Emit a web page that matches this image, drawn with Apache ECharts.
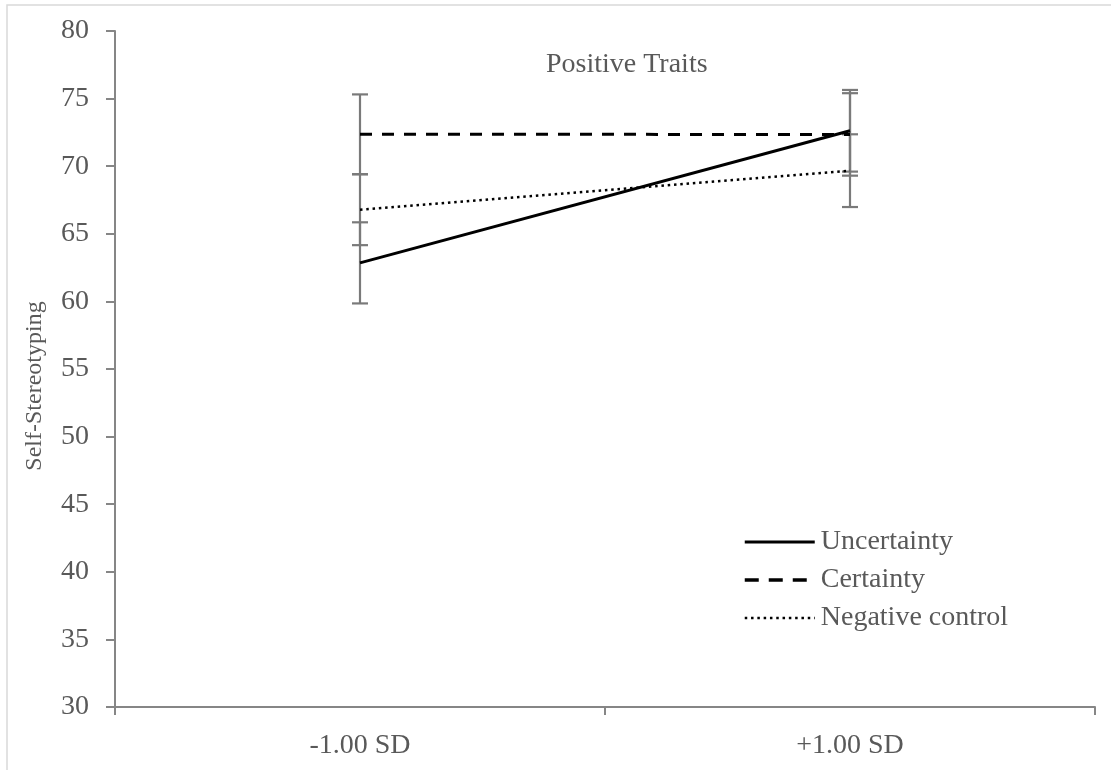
<!DOCTYPE html>
<html>
<head>
<meta charset="utf-8">
<script src="https://cdn.jsdelivr.net/npm/echarts@6/dist/echarts.min.js"></script>
<style>html,body{margin:0;padding:0;background:#fff;}#c{width:1111px;height:770px;}</style>
</head>
<body>
<div id="c"></div>
<script>
const categories = ['-1.00 SD', '+1.00 SD'];
const uncertainty = [62.85, 72.62];
const certainty = [72.36, 72.35];
const negControl = [66.78, 69.67];
const errUncertainty = [3.0, 3.02];
const errCertainty = [2.95, 3.05];
const errNegControl = [2.62, 2.69];
const yTicks = {min: 30, max: 80, interval: 5};
const titleText = 'Positive Traits';
const yName = 'Self-Stereotyping';

const FONT = '"Liberation Serif", "Times New Roman", serif';
const TXT = '#595959';
const AX = '#868686';

function errSeries(vals, errs) {
  return {
    type: 'custom',
    z: 1,
    silent: true,
    data: vals.map((v, i) => [i, v - errs[i], v + errs[i]]),
    renderItem: function (params, api) {
      const lo = api.coord([api.value(0), api.value(1)]);
      const hi = api.coord([api.value(0), api.value(2)]);
      const hw = 8;
      const st = {stroke: '#7a7a7a', lineWidth: 2.2};
      return {
        type: 'group',
        children: [
          {type: 'line', shape: {x1: lo[0], y1: lo[1], x2: hi[0], y2: hi[1]}, style: st},
          {type: 'line', shape: {x1: lo[0] - hw, y1: lo[1], x2: lo[0] + hw, y2: lo[1]}, style: st},
          {type: 'line', shape: {x1: hi[0] - hw, y1: hi[1], x2: hi[0] + hw, y2: hi[1]}, style: st}
        ]
      };
    }
  };
}

const chart = echarts.init(document.getElementById('c'), null, {renderer: 'canvas'});
chart.setOption({
  animation: false,
  backgroundColor: '#fff',
  textStyle: {fontFamily: FONT},
  title: {
    text: titleText, left: 541, top: 46,
    textStyle: {fontFamily: FONT, fontSize: 28, fontWeight: 'normal', color: TXT}
  },
  grid: {left: 115, right: 16, top: 31, bottom: 63, containLabel: false},
  legend: {
    orient: 'vertical', left: 738, top: 523,
    itemWidth: 70, itemHeight: 14, itemGap: 10,
    itemStyle: {opacity: 0},
    data: [
      {name: 'Uncertainty', lineStyle: {width: 3, color: '#000', type: 'solid'}},
      {name: 'Certainty', lineStyle: {width: 3.5, color: '#000', type: [14, 10]}},
      {name: 'Negative control', lineStyle: {width: 2.5, color: '#000', type: [2.5, 3.8]}}
    ],
    textStyle: {fontFamily: FONT, fontSize: 28, color: TXT, lineHeight: 28, padding: [0, 0, 0, 1]}
  },
  xAxis: {
    type: 'category', data: categories, boundaryGap: true,
    axisLine: {lineStyle: {color: AX, width: 2}},
    axisTick: {show: true, length: 8, lineStyle: {color: AX, width: 2}},
    axisLabel: {fontFamily: FONT, fontSize: 28, color: TXT, margin: 25},
    splitLine: {show: false}
  },
  yAxis: {
    type: 'value', min: yTicks.min, max: yTicks.max, interval: yTicks.interval,
    axisLine: {show: true, lineStyle: {color: AX, width: 2}},
    axisTick: {show: true, length: 9, lineStyle: {color: AX, width: 2}},
    axisLabel: {fontFamily: FONT, fontSize: 28, color: TXT, margin: 26},
    splitLine: {show: false}
  },
  graphic: [
    {type: 'rect', z: -10, shape: {x: 7, y: 5, width: 1300, height: 1000}, style: {fill: null, stroke: '#d9d9d9', lineWidth: 1.5}},
    {type: 'text', x: 35, y: 386, rotation: Math.PI / 2,
     style: {text: yName, font: '24px ' + FONT, fill: TXT, textAlign: 'center', textVerticalAlign: 'middle'}}
  ],
  series: [
    errSeries(uncertainty, errUncertainty),
    errSeries(certainty, errCertainty),
    errSeries(negControl, errNegControl),
    {name: 'Uncertainty', type: 'line', z: 3, data: uncertainty, symbol: 'none',
     lineStyle: {color: '#000', width: 3, type: 'solid'}, itemStyle: {color: '#000'}},
    {name: 'Certainty', type: 'line', z: 3, data: certainty, symbol: 'none',
     lineStyle: {color: '#000', width: 3, type: [12, 10]}, itemStyle: {color: '#000'}},
    {name: 'Negative control', type: 'line', z: 3, data: negControl, symbol: 'none',
     lineStyle: {color: '#000', width: 2.5, type: [2.5, 3.8]}, itemStyle: {color: '#000'}}
  ]
});
</script>
</body>
</html>
